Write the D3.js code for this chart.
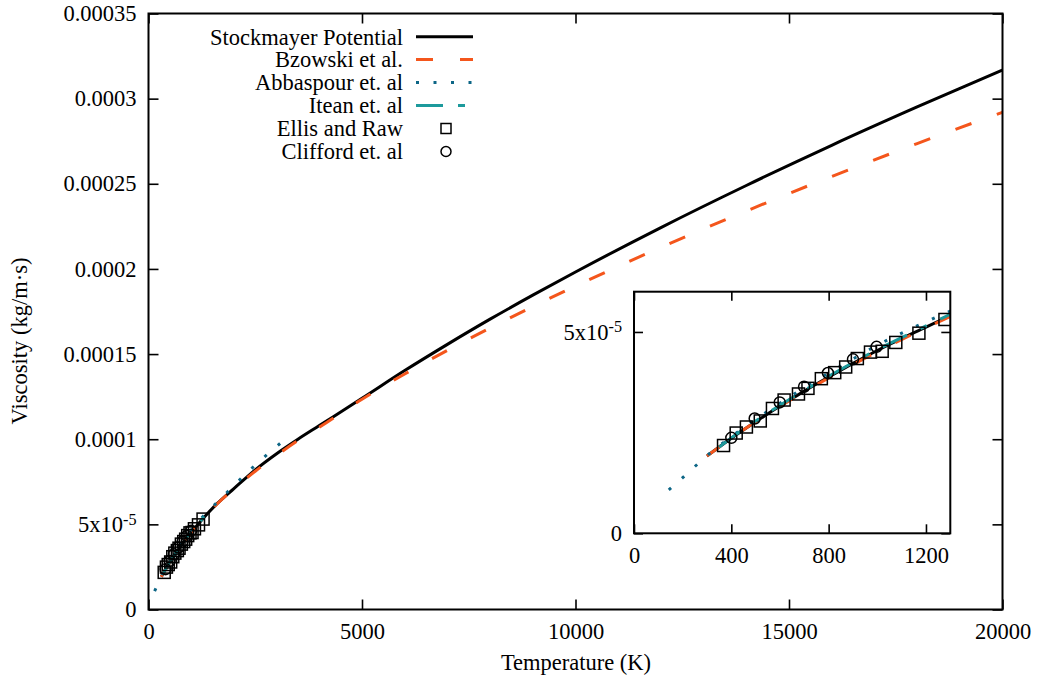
<!DOCTYPE html>
<html><head><meta charset="utf-8">
<script src="https://cdn.jsdelivr.net/npm/d3@7"></script>
<style>
body{margin:0;background:#fff;}
svg text{font-family:"Liberation Serif","Times New Roman","DejaVu Serif",serif;fill:#000;}
</style></head>
<body><svg id="c" width="1038" height="684"></svg>
<script>
// ---- data (viscosity in kg/m·s, temperature in K) ----
const stockT = [300,400,500,600,700,800,900,1000,1200,1400,1600,2000,2500,3000,3500,4000,5000,6000,7000,8000,9000,10000,12000,14000,16000,18000,20000];
const stockMu = [1.92e-5,2.36e-5,2.77e-5,3.16e-5,3.53e-5,3.88e-5,4.22e-5,4.54e-5,5.12e-5,5.68e-5,6.20e-5,7.10e-5,8.20e-5,9.15e-5,1.000e-4,1.080e-4,1.240e-4,1.403e-4,1.557e-4,1.705e-4,1.846e-4,1.982e-4,2.243e-4,2.490e-4,2.726e-4,2.951e-4,3.168e-4];
const bzowT = [300,400,500,600,700,800,900,1000,1200,1400,1600,2000,2500,3000,3500,4000,5000,6000,7000,8000,9000,10000,12000,14000,16000,18000,20000];
const bzowMu = [1.92e-5,2.36e-5,2.77e-5,3.15e-5,3.51e-5,3.86e-5,4.19e-5,4.51e-5,5.10e-5,5.66e-5,6.18e-5,7.08e-5,8.12e-5,9.05e-5,9.92e-5,1.070e-4,1.235e-4,1.383e-4,1.522e-4,1.653e-4,1.779e-4,1.899e-4,2.127e-4,2.340e-4,2.543e-4,2.736e-4,2.920e-4];
const abbaT = [143,200,256,300,400,500,600,700,800,900,1000,1200,1400,1600,1800,2000,2400,2800,3300];
const abbaMu = [1.08e-5,1.38e-5,1.69e-5,1.93e-5,2.40e-5,2.83e-5,3.23e-5,3.62e-5,3.98e-5,4.33e-5,4.67e-5,5.25e-5,5.78e-5,6.28e-5,6.78e-5,7.28e-5,8.25e-5,9.15e-5,1.020e-4];
const iteanT = [350,400,500,600,700,800,900,1000,1100,1200,1300];
const iteanMu = [2.14e-5,2.37e-5,2.79e-5,3.18e-5,3.55e-5,3.90e-5,4.24e-5,4.56e-5,4.86e-5,5.15e-5,5.44e-5];
const ellisT = [368,420,462,519,569,617,676,715,770,825,870,918,972,1020,1076,1171,1278];
const ellisMu = [2.18e-5,2.49e-5,2.64e-5,2.79e-5,3.10e-5,3.31e-5,3.46e-5,3.60e-5,3.84e-5,3.99e-5,4.13e-5,4.34e-5,4.50e-5,4.52e-5,4.74e-5,4.97e-5,5.31e-5];
const cliffT = [400,496,599,699,797,900,997];
const cliffMu = [2.37e-5,2.85e-5,3.25e-5,3.64e-5,3.98e-5,4.32e-5,4.63e-5];

const xTicks = [0,5000,10000,15000,20000];
const yTicks = [0,5e-5,1e-4,1.5e-4,2e-4,2.5e-4,3e-4,3.5e-4];
const yTickLabels = ["0","5x10^-5","0.0001","0.00015","0.0002","0.00025","0.0003","0.00035"];
const insetXTicks = [0,400,800,1200];
const insetYTicks = [0,5e-5];
const insetYTickLabels = ["0","5x10^-5"];

const seriesNames = ["Stockmayer Potential","Bzowski et al.","Abbaspour et. al","Itean et. al","Ellis and Raw","Clifford et. al"];
const colors = {stock:"#000000", bzow:"#f4561c", abba:"#0d6686", itean:"#1d9a9c"};

// ---- layout ----
const svg = d3.select("#c");
const FS = 22.5;
const FF = '"Liberation Serif","Times New Roman","DejaVu Serif",serif';
const x = d3.scaleLinear([0,20000],[148.5,1002.5]);
const y = d3.scaleLinear([0,3.5e-4],[609.5,13.5]);
const ix = d3.scaleLinear([0,1300],[634,950.3]);
const iy = d3.scaleLinear([0,6e-5],[533.3,291.7]);

const lineStyles = [
  {T:stockT, M:stockMu, color:colors.stock, w:3, dash:null},
  {T:bzowT, M:bzowMu, color:colors.bzow, w:3, dash:"17,27"},
  {T:abbaT, M:abbaMu, color:colors.abba, w:3, dash:"3,14.5"},
  {T:iteanT, M:iteanMu, color:colors.itean, w:3, dash:"27,15,7,15"}
];

const defs = svg.append("defs");
defs.append("clipPath").attr("id","mainclip").append("rect")
  .attr("x",148.5).attr("y",13.5).attr("width",854).attr("height",596);
defs.append("clipPath").attr("id","insclip").append("rect")
  .attr("x",634).attr("y",291.7).attr("width",316.3).attr("height",241.6);

function setLabel(sel, lab){
  sel.each(function(d,i){
    const t = d3.select(this);
    const s = lab[i];
    t.text(null);
    if (s.includes("^")) {
      const [a,b] = s.split("^");
      t.append("tspan").text(a);
      t.append("tspan").attr("dy","-0.45em").attr("font-size","0.72em").text(b);
    } else t.text(s);
  });
}

function drawPanel(g, xs, ys, xt, xtl, yt, ytl, clipId, tick){
  const [x0,x1] = xs.range(); const [y0,y1] = ys.range();
  const area = g.append("g").attr("clip-path",`url(#${clipId})`);
  lineStyles.forEach(s=>{
    const pts = s.T.map((t,i)=>[t,s.M[i]]);
    area.append("path").datum(pts)
      .attr("d", d3.line().x(d=>xs(d[0])).y(d=>ys(d[1])).curve(d3.curveMonotoneX))
      .attr("fill","none").attr("stroke",s.color).attr("stroke-width",s.w)
      .attr("stroke-dasharray",s.dash);
  });
  const sq = 12;
  area.selectAll(null).data(ellisT.map((t,i)=>[t,ellisMu[i]])).join("rect")
    .attr("x",d=>xs(d[0])-sq/2).attr("y",d=>ys(d[1])-sq/2).attr("width",sq).attr("height",sq)
    .attr("fill","none").attr("stroke","#000").attr("stroke-width",1.5);
  area.selectAll(null).data(cliffT.map((t,i)=>[t,cliffMu[i]])).join("circle")
    .attr("cx",d=>xs(d[0])).attr("cy",d=>ys(d[1])).attr("r",5.5)
    .attr("fill","none").attr("stroke","#000").attr("stroke-width",1.5);

  // axes
  const ax = g.append("g").attr("transform",`translate(0,${y0})`)
    .call(d3.axisBottom(xs).tickValues(xt).tickSizeInner(-tick).tickSizeOuter(0).tickPadding(14));
  ax.selectAll("text").text((d,i)=>xtl[i]);
  const axT = g.append("g").attr("transform",`translate(0,${y1})`)
    .call(d3.axisTop(xs).tickValues(xt).tickSizeInner(-tick).tickSizeOuter(0).tickFormat(""));
  const ay = g.append("g").attr("transform",`translate(${x0},0)`)
    .call(d3.axisLeft(ys).tickValues(yt).tickSizeInner(-tick).tickSizeOuter(0).tickPadding(12));
  setLabel(ay.selectAll("text"), ytl);
  const ayR = g.append("g").attr("transform",`translate(${x1},0)`)
    .call(d3.axisRight(ys).tickValues(yt).tickSizeInner(-tick).tickSizeOuter(0).tickFormat(""));
  [ax,axT,ay,ayR].forEach(a=>{
    a.attr("font-family",FF).attr("font-size",FS);
    a.select(".domain").remove();
    a.selectAll("line").attr("stroke","#000").attr("stroke-width",1.6);
  });
  g.append("rect").attr("x",x0).attr("y",y1).attr("width",x1-x0).attr("height",y0-y1)
    .attr("fill","none").attr("stroke","#000").attr("stroke-width",2);
}

const main = svg.append("g");
drawPanel(main, x, y, xTicks, xTicks.map(String), yTicks, yTickLabels, "mainclip", 10);

// legend
const leg = svg.append("g").attr("font-family",FF).attr("font-size",FS);
const rowsY = [36.7,59.5,82.5,105.5,128.5,151.5];
seriesNames.forEach((n,i)=>{
  leg.append("text").attr("x",403).attr("y",rowsY[i]).attr("dy","0.35em")
    .attr("text-anchor","end").text(n);
  if (i<4){
    const s = lineStyles[i];
    leg.append("line").attr("x1",416).attr("x2",473).attr("y1",rowsY[i]).attr("y2",rowsY[i])
      .attr("stroke",s.color).attr("stroke-width",s.w).attr("stroke-dasharray",s.dash);
  } else if (i===4){
    leg.append("rect").attr("x",446-5).attr("y",rowsY[i]-5).attr("width",10).attr("height",10)
      .attr("fill","none").attr("stroke","#000").attr("stroke-width",1.5);
  } else {
    leg.append("circle").attr("cx",446).attr("cy",rowsY[i]).attr("r",5)
      .attr("fill","none").attr("stroke","#000").attr("stroke-width",1.5);
  }
});

// axis titles
svg.append("text").attr("x",576).attr("y",670).attr("text-anchor","middle")
  .attr("font-family",FF).attr("font-size",FS).text("Temperature (K)");
svg.append("text").attr("transform","translate(27,341) rotate(-90)").attr("text-anchor","middle")
  .attr("font-family",FF).attr("font-size",FS).text("Viscosity (kg/m·s)");

// inset
const ins = svg.append("g");
ins.append("rect").attr("x",634).attr("y",291.7).attr("width",316.3).attr("height",241.6).attr("fill","#fff");
drawPanel(ins, ix, iy, insetXTicks, insetXTicks.map(String), insetYTicks, insetYTickLabels, "insclip", 9);
</script></body></html>
